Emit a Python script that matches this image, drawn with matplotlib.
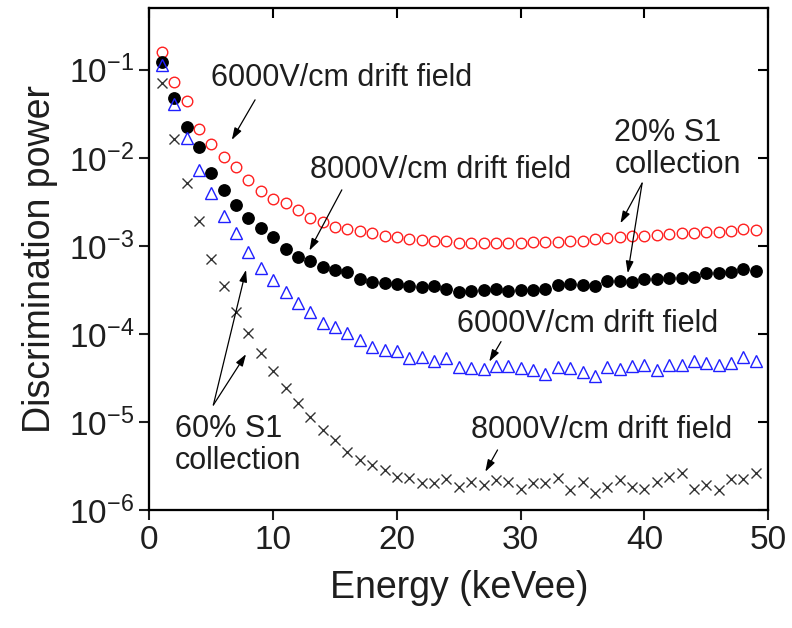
import matplotlib
matplotlib.use("Agg")
import matplotlib.pyplot as plt
from matplotlib.ticker import NullLocator, LogLocator
import numpy as np

plt.rcParams.update(
    {
        "font.family": ["Liberation Sans", "DejaVu Sans"],
        "mathtext.fontset": "custom",
        "mathtext.rm": "Liberation Sans",
        "mathtext.default": "regular",
        "axes.linewidth": 1.5,
    }
)

energy = list(range(1, 50))

# 20% S1 collection, 6000 V/cm (red open circles)
red_6000 = [0.161, 0.0736, 0.0444, 0.0212, 0.0144, 0.01035, 0.00783, 0.00562, 0.00425, 0.00339,
            0.00305, 0.00257, 0.00207, 0.00186, 0.00166, 0.00155, 0.00146, 0.00139, 0.00128, 0.00126,
            0.00120, 0.00117, 0.00114, 0.00114, 0.00107, 0.00108, 0.00107, 0.00108, 0.00108, 0.00109,
            0.00110, 0.00111, 0.00112, 0.00113, 0.00115, 0.00119, 0.00124, 0.00126, 0.00128, 0.00131,
            0.00133, 0.00137, 0.00139, 0.00139, 0.00142, 0.00144, 0.00147, 0.00155, 0.00152]

# 20% S1 collection, 8000 V/cm (black filled circles)
black_8000 = [0.124, 0.0477, 0.0227, 0.0132, 0.0067, 0.00433, 0.00292, 0.00206, 0.00159, 0.00126,
              0.00092, 0.00074, 0.00068, 0.000573, 0.000535, 0.000503, 0.000421, 0.000393, 0.000376, 0.00037,
              0.00035, 0.000345, 0.00035, 0.000323, 0.000302, 0.00031, 0.000316, 0.000324, 0.00031, 0.000316,
              0.000316, 0.000324, 0.00036, 0.00037, 0.00036, 0.000346, 0.000404, 0.000404, 0.000393, 0.000418,
              0.000418, 0.00043, 0.00043, 0.000449, 0.00049, 0.00049, 0.00051, 0.000543, 0.000525]

# 60% S1 collection, 6000 V/cm (blue open triangles)
blue_6000 = [0.114, 0.041, 0.0167, 0.0073, 0.00398, 0.0022, 0.00139, 0.00086, 0.00056, 0.00041,
             0.000303, 0.000223, 0.000179, 0.000132, 0.000121, 0.000102, 8.55e-5, 7.06e-5, 6.58e-5, 6.46e-5,
             5.29e-5, 5.52e-5, 4.97e-5, 5.38e-5, 4.19e-5, 4.08e-5, 3.97e-5, 4.33e-5, 4.33e-5, 4.08e-5,
             3.90e-5, 3.51e-5, 4.25e-5, 4.08e-5, 3.73e-5, 3.33e-5, 4.25e-5, 3.97e-5, 4.33e-5, 4.44e-5,
             3.90e-5, 4.44e-5, 4.44e-5, 4.97e-5, 4.72e-5, 4.44e-5, 4.64e-5, 5.52e-5, 4.97e-5]

# 60% S1 collection, 8000 V/cm (crosses)
cross_8000 = [0.0706, 0.0163, 0.00524, 0.00191, 0.00071, 0.000347, 0.000178, 1.02e-4, 6.0e-5, 3.83e-5,
              2.41e-5, 1.63e-5, 1.15e-5, 8.1e-6, 6.24e-6, 4.6e-6, 3.7e-6, 3.25e-6, 2.85e-6, 2.4e-6,
              2.29e-6, 2.04e-6, 2.01e-6, 2.23e-6, 1.81e-6, 2.1e-6, 1.92e-6, 2.19e-6, 2.1e-6, 1.72e-6,
              2.04e-6, 2.01e-6, 2.29e-6, 1.69e-6, 2.1e-6, 1.55e-6, 1.84e-6, 2.17e-6, 1.84e-6, 1.72e-6,
              2.1e-6, 2.4e-6, 2.61e-6, 1.72e-6, 1.92e-6, 1.69e-6, 2.23e-6, 2.23e-6, 2.65e-6]

x_ticks = [0, 10, 20, 30, 40, 50]
TXT = "#1e1e1e"
FS_ANN = 22

fig = plt.figure(figsize=(7.92, 6.28), dpi=100)
ax = fig.add_axes([0.1886, 0.1879, 0.7814, 0.7989])

ax.plot(energy, red_6000, ls="none", marker="o", ms=7.6, mfc="none", mec="#ff2020", mew=1.0)
ax.plot(energy, black_8000, ls="none", marker="o", ms=8.2, mfc="black", mec="black", mew=1.0)
ax.plot(energy, blue_6000, ls="none", marker="^", ms=8.2, mfc="none", mec="#2020ff", mew=1.0)
ax.plot(energy, cross_8000, ls="none", marker="x", ms=7.5, mec="#333333", mew=1.0)

ax.set_yscale("log")
ax.set_xlim(0, 50)
ax.set_ylim(1e-6, 0.5)
ax.set_xticks(x_ticks)
ax.yaxis.set_major_locator(LogLocator(base=10, numticks=10))
ax.yaxis.set_minor_locator(NullLocator())
ax.tick_params(direction="out", length=7, width=1.5, labelsize=24, colors=TXT, pad=4)
ax.set_xlabel("Energy (keVee)", fontsize=27, color=TXT, labelpad=10)
ax.set_ylabel("Discrimination power", fontsize=27, color=TXT, labelpad=8)

# mirrored ticks on top/right pointing inward
ax_r = ax.twinx()
ax_r.set_yscale("log")
ax_r.set_ylim(ax.get_ylim())
ax_r.yaxis.set_major_locator(LogLocator(base=10, numticks=10))
ax_r.yaxis.set_minor_locator(NullLocator())
ax_r.tick_params(direction="in", length=7, width=1.5, labelright=False)
ax_t = ax.twiny()
ax_t.set_xlim(ax.get_xlim())
ax_t.set_xticks(x_ticks)
ax_t.tick_params(direction="in", length=7, width=1.5, labeltop=False)

arrow = dict(arrowstyle="-|>,head_length=0.4,head_width=0.13", lw=0.9, color="black",
             mutation_scale=18, shrinkA=0, shrinkB=0)


def note(xy, xytext):
    ax.annotate("", xy=xy, xytext=xytext, arrowprops=arrow)


ax.text(4.96, 0.0805, "6000V/cm drift field", fontsize=FS_ANN, color=TXT, va="center", ha="left")
note((6.66, 0.016), (8.54, 0.0456))

ax.text(12.99, 0.00731, "8000V/cm drift field", fontsize=FS_ANN, color=TXT, va="center", ha="left")
note((12.93, 8.85e-4), (15.55, 0.00433))

ax.text(37.57, 0.0126, "20% S1\ncollection", fontsize=FS_ANN, color=TXT, va="center", ha="left",
        linespacing=1.1)
note((38.06, 0.00181), (39.81, 0.00516))
note((38.65, 4.9e-4), (39.81, 0.00516))

ax.text(24.85, 1.30e-4, "6000V/cm drift field", fontsize=FS_ANN, color=TXT, va="center", ha="left")
note((27.46, 4.84e-5), (28.41, 8.18e-5))

ax.text(25.97, 8.1e-6, "8000V/cm drift field", fontsize=FS_ANN, color=TXT, va="center", ha="left")
note((27.14, 2.72e-6), (28.13, 4.81e-6))

ax.text(2.07, 5.48e-6, "60% S1\ncollection", fontsize=FS_ANN, color=TXT, va="center", ha="left",
        linespacing=1.1)
note((7.81, 5.34e-4), (5.17, 1.56e-5))
note((7.81, 5.89e-5), (5.17, 1.56e-5))

fig.savefig("out.png", dpi=100)
